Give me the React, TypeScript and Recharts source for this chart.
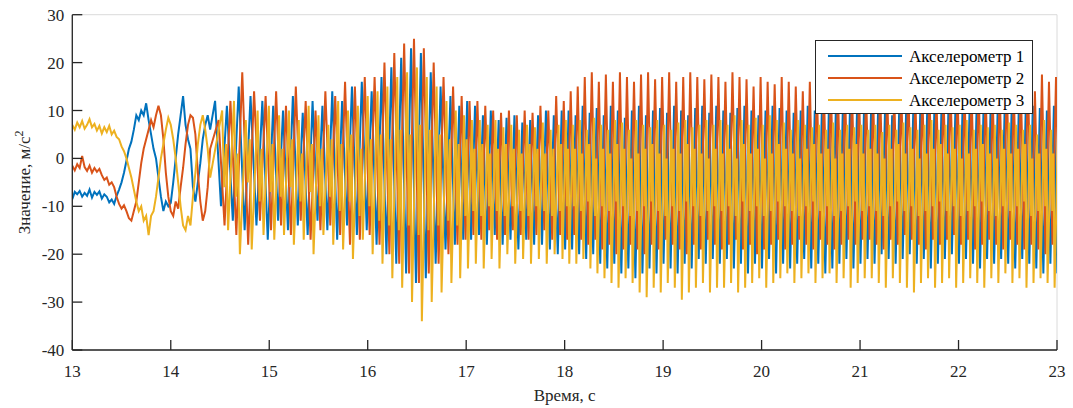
import React from 'react';
import { LineChart, Line, XAxis, YAxis, CartesianGrid, Legend } from 'recharts';

const X_TICKS = [13, 14, 15, 16, 17, 18, 19, 20, 21, 22, 23];
const Y_TICKS = [-40, -30, -20, -10, 0, 10, 20, 30];
const SERIES_NAMES = ['Акселерометр 1', 'Акселерометр 2', 'Акселерометр 3'];
const COLORS = ['#0072BD', '#D95319', '#EDB120'];
const X_LABEL = 'Время, с';
const Y_LABEL = 'Значение, м/с';

// slow part, sampled every 0.025 s starting at 13.0 s
const EARLY_START = 13.0;
const EARLY_STEP = 0.025;
const EARLY_ACC1 = [
  -8.5, -7, -7.5, -6.8, -8, -7.2, -7.8, -6.5, -8.2, -7, -7.6, -6.9, -8.4, -7.5, -8, -9.2, -8.6, -9.5, -7.8, -6.5,
  -5, -3, -0.5, 2, 3.5, 6, 9, 8, 10, 9, 11.5, 8, 5, 2, 0, -4, -8, -11, -9, -10,
  -9.3, -5, 0, 5, 9, 13, 7, 4, 2, -6, -9, -5, -1, 4, 7, 9, 6,
];
const EARLY_ACC2 = [
  -1.5, -2.5, -1.2, -2, 0.5, -1.8, -2.6, -1.5, -3, -2, -2.8, -2.2, -3.5, -4.5, -4, -5.5, -5, -6, -8, -9.5,
  -10.5, -9.8, -11, -12.5, -13, -11, -9, -5, -1, 2, 4, 6, 8, 6.5, 9, 11, 9, 4, -3, -8,
  -11, -12, -9, -10.5, -6, -2, 3, 7, 9, 8.5, 5, -3, -9, -13, -11, -6, 2,
];
const EARLY_ACC3 = [
  7, 6, 7.5, 6.5, 7.8, 6.2, 7, 8.2, 6.5, 7.2, 5.8, 6.8, 5.2, 6.5, 5.5, 6.8, 5, 5.8, 4.5, 4,
  2.5, 1.5, 0, -2, -4, -6.5, -9, -11, -10, -13, -12, -16, -12, -11, -8, -4, 0, 3, 6, 8.5,
  7, 4, 0, -5, -10, -14, -15, -12, -14, -8, -3, 3, 7, 9, 6, 2, -4,
];

// oscillating part: start time of each cycle
const CHIRP_CYCLE_T = [
  14.45, 14.57, 14.69, 14.81, 14.93,
  15.04, 15.14, 15.24, 15.34, 15.44, 15.54, 15.64, 15.74, 15.84, 15.94,
  16.04, 16.14, 16.24, 16.34, 16.44, 16.54, 16.64, 16.74, 16.84, 16.93,
  17.01, 17.09, 17.17, 17.25, 17.33, 17.41, 17.49, 17.57, 17.65, 17.73, 17.81, 17.89, 17.97,
];
const STEADY_START = 18.04;
const STEADY_PERIOD = 1 / 14;
const STEADY_CYCLES = 70;

// per-cycle peak (HI) and trough (LO) values
const ACC1_HI = [
  12, 11, 15, 13, 12,
  11, 10, 13, 9.5, 12, 11, 14, 12, 15, 16,
  14, 17, 19, 21, 23, 22, 18, 15, 13, 11,
  12, 11, 9, 10, 8, 8.5, 9, 7.5, 8, 9, 10, 9, 10,
  10, 9, 11, 9.5, 10.5, 9, 11, 10, 8.5, 10, 11, 9, 10, 10.5, 9.5, 11, 10, 9, 10.5, 11, 9.5,
  11, 10, 9.5, 10.5, 11, 10, 9, 10, 11, 10.5, 10, 9.5, 10, 11, 10, 9.5, 10, 10.5, 11, 10, 9.5,
  10, 9.5, 10, 10.5, 9, 10, 10.5, 9.5, 10, 11, 10, 9.5, 10, 10.5, 10, 9.5, 10, 11, 10.5, 10, 10.5, 11, 10, 10.5, 11, 10.5, 10, 11,
];
const ACC1_LO = [
  -10, -13, -15, -14, -17,
  -13, -15, -14, -16, -13, -15, -17, -14, -16, -15,
  -18, -20, -22, -24, -26, -25, -22, -19, -18, -17,
  -17, -16, -18, -16, -18, -17, -19, -17, -18, -18, -19, -20, -19,
  -19, -20, -21, -20, -22, -23, -22, -24, -23, -25, -24, -23, -24, -22, -23, -24, -22, -23, -21, -22, -21,
  -22, -21, -23, -22, -24, -22, -23, -21, -24, -22, -23, -22, -21, -23, -22, -24, -23, -22, -21, -23, -22,
  -21, -22, -20, -21, -22, -21, -20, -22, -21, -23, -22, -21, -20, -22, -21, -22, -23, -21, -22, -21, -22, -23, -21, -22, -23, -24, -22, -24,
];
const ACC2_HI = [
  8, 12, 18, 14, 13,
  14, 11, 15, 12, 10, 14, 13, 16, 15, 17,
  17, 20, 22, 24, 25, 23, 20, 17, 15, 13,
  12, 12, 11, 10, 9.5, 10, 9, 10, 9.5, 11, 10, 13, 12,
  14, 15, 17, 18, 16, 17.5, 16, 18, 17, 16, 17.5, 18, 16.5, 17, 18, 16, 17, 18, 17, 16.5, 17.5,
  17, 16, 18, 17, 16.5, 15, 17, 16, 15.5, 17, 16, 15, 14, 16, 15, 14.5, 15, 14, 15, 14, 13.5,
  14, 13, 15, 14, 13.5, 14, 15, 13, 14, 14.5, 13, 14, 15, 14, 13.5, 14, 15, 14, 13, 15, 16, 14, 15, 17, 14, 17.5, 16, 17,
];
const ACC2_LO = [
  -14, -16, -18, -13, -15,
  -14, -16, -13, -17, -15, -14, -16, -18, -17, -16,
  -18, -20, -22, -24, -26, -24, -22, -20, -18, -17,
  -16, -17, -15, -17, -16, -15, -16, -17, -16, -15, -17, -16, -17,
  -16, -17, -18, -17, -19, -18, -20, -19, -18, -19, -20, -18, -19, -17, -18, -19, -20, -18, -19, -17, -18,
  -19, -18, -17, -19, -18, -20, -19, -18, -17, -19, -18, -17, -18, -19, -17, -18, -19, -18, -17, -18, -17,
  -17, -18, -19, -17, -18, -16, -17, -18, -19, -17, -18, -17, -16, -18, -17, -19, -18, -17, -18, -19, -17, -18, -19, -18, -19, -20, -18, -19,
];
const ACC3_HI = [
  10, 12, 8, 10, 11,
  9, 10, 8, 11, 9, 7, 12, 10, 11, 13,
  14, 15, 17, 18, 19, 17, 15, 12, 10, 9,
  8, 8, 7, 8, 6.5, 7, 6, 7, 6.5, 7.5, 6, 7, 8,
  7, 8, 6, 8.5, 7, 6, 8, 7.5, 6, 8, 7, 6.5, 8, 7, 6, 7.5, 8, 6.5, 7, 8, 7,
  8, 7, 9, 8, 7, 8.5, 7, 9, 8, 7.5, 6, 8, 7, 6.5, 7, 6, 7.5, 6, 7, 6.5, 7,
  6, 7, 5.5, 7, 6, 7.5, 6.5, 6, 7, 8, 6, 7, 6.5, 7, 8, 6, 7, 6.5, 7, 6, 7.5, 7, 6, 7, 5, 8, 6, 7,
];
const ACC3_LO = [
  -15, -20, -19, -16, -17,
  -16, -18, -17, -20, -16, -18, -19, -21, -17, -20,
  -22, -25, -27, -30, -34, -30, -28, -26, -25, -23,
  -22, -23, -21, -23, -20, -22, -21, -22, -21, -22, -20, -21, -22,
  -22, -21, -23, -24, -25, -26, -27, -25, -26, -28, -29, -27, -28, -26, -27, -29.5, -28, -27, -26, -28, -27,
  -27, -26, -28, -27, -26, -25, -27, -26, -25, -24, -26, -25, -24, -26, -25, -24, -26, -25, -27, -26, -25,
  -25, -26, -27, -25, -26, -27, -28, -26, -25, -27, -26, -25, -27, -26, -25, -26, -27, -25, -26, -24, -26, -25, -27, -26, -25, -26, -27, -25,
];
// inner wiggle of accelerometer 3 inside each cycle (dense yellow body)
const ACC3_INNER_LO = [
  -6, -8, -5, -9, -7,
  -8, -6, -9, -7, -10, -8, -11, -9, -12, -10,
  -13, -14, -15, -14, -16, -15, -14, -13, -14, -12,
  -11, -12, -10, -11, -12, -10, -11, -12, -10, -11, -12, -11, -10,
  -10, -11, -9, -12, -10, -11, -9, -10, -12, -11, -10, -9, -11, -12, -10, -11, -9, -10, -12, -11, -10,
  -11, -10, -12, -9, -11, -10, -12, -11, -9, -10, -11, -12, -10, -9, -11, -10, -12, -11, -10, -9, -11,
  -10, -11, -12, -10, -9, -11, -10, -12, -11, -10, -9, -11, -10, -12, -11, -10, -9, -11, -12, -10, -11, -10, -9, -12, -11, -10, -11, -12,
];
const ACC3_INNER_HI = [
  3, 1, 4, 2, 3,
  2, 4, 1, 3, 2, 4, 3, 5, 2, 4,
  5, 4, 6, 5, 7, 6, 5, 4, 3, 4,
  2, 3, 1, 2, 3, 2, 1, 3, 2, 1, 2, 3, 2,
  2, 1, 3, 0, 2, 1, 3, 2, 0, 1, 2, 3, 1, 0, 2, 1, 3, 2, 1, 0, 2,
  1, 2, 0, 3, 1, 2, 0, 1, 3, 2, 1, 0, 2, 3, 1, 2, 0, 1, 2, 3, 1,
  2, 1, 0, 2, 3, 1, 2, 0, 1, 2, 3, 1, 2, 0, 1, 2, 3, 1, 0, 2, 1, 2, 3, 0, 1, 2, 1, 0,
];
const PHASES = [0, 0.3, 0.6];

const CYCLE_T: number[] = [...CHIRP_CYCLE_T];
for (let k = 0; k < STEADY_CYCLES; k++) CYCLE_T.push(STEADY_START + k * STEADY_PERIOD);

function buildSeries(
  early: number[],
  hi: number[],
  lo: number[],
  phase: number,
  innerLo?: number[],
  innerHi?: number[],
) {
  const pts: { t: number; v: number }[] = early.map((v, i) => ({ t: EARLY_START + i * EARLY_STEP, v }));
  const n = Math.min(CYCLE_T.length, hi.length, lo.length);
  for (let i = 0; i < n; i++) {
    const t0 = CYCLE_T[i];
    const p = (i + 1 < CYCLE_T.length ? CYCLE_T[i + 1] : t0 + STEADY_PERIOD) - t0;
    pts.push({ t: t0 + phase * p, v: hi[i] });
    if (innerLo && innerHi && i < innerLo.length && i < innerHi.length) {
      pts.push({ t: t0 + (phase + 0.17) * p, v: innerLo[i] });
      pts.push({ t: t0 + (phase + 0.33) * p, v: innerHi[i] });
    }
    pts.push({ t: t0 + (phase + 0.5) * p, v: lo[i] });
  }
  return pts;
}

const SERIES = [
  buildSeries(EARLY_ACC1, ACC1_HI, ACC1_LO, PHASES[0]),
  buildSeries(EARLY_ACC2, ACC2_HI, ACC2_LO, PHASES[1]),
  buildSeries(EARLY_ACC3, ACC3_HI, ACC3_LO, PHASES[2], ACC3_INNER_LO, ACC3_INNER_HI),
];

const FONT = 'Liberation Serif, Times New Roman, DejaVu Serif, serif';
const INK = '#262626';
const TICK_LEN = 10;
const TXT = { fontFamily: FONT, fontSize: 17 };

const BottomTick = (props: any) => {
  const { x, y, payload } = props;
  return (
    <g>
      <line x1={x} x2={x} y1={y} y2={y - TICK_LEN} stroke={INK} strokeWidth={1.3} />
      <text x={x} y={y + 27} textAnchor="middle" style={TXT} fill={INK}>
        {payload.value}
      </text>
    </g>
  );
};
const TopTick = (props: any) => {
  const { x, y } = props;
  return <line x1={x} x2={x} y1={y} y2={y + TICK_LEN} stroke={INK} strokeWidth={1.3} />;
};
const LeftTick = (props: any) => {
  const { x, y, payload } = props;
  return (
    <g>
      <line x1={x} x2={x + TICK_LEN} y1={y} y2={y} stroke={INK} strokeWidth={1.3} />
      <text x={x - 8} y={y + 6} textAnchor="end" style={TXT} fill={INK}>
        {payload.value}
      </text>
    </g>
  );
};
const RightTick = (props: any) => {
  const { x, y } = props;
  return <line x1={x} x2={x - TICK_LEN} y1={y} y2={y} stroke={INK} strokeWidth={1.3} />;
};

const XLabel = (props: any) => {
  const vb = props.viewBox || {};
  const cx = vb.x + vb.width / 2;
  return (
    <text x={cx} y={vb.y + 51} textAnchor="middle" style={TXT} fill={INK}>
      {X_LABEL}
    </text>
  );
};
const YLabel = (props: any) => {
  const vb = props.viewBox || {};
  const cy = vb.y + vb.height / 2;
  const bx = 30;
  return (
    <text
      x={bx}
      y={cy}
      transform={`rotate(-90, ${bx}, ${cy})`}
      textAnchor="middle"
      style={TXT}
      fill={INK}
    >
      {Y_LABEL}
      <tspan dy={-7} style={{ fontSize: 12 }}>2</tspan>
    </text>
  );
};

const LegendBox = () => (
  <div
    style={{
      width: 216,
      height: 72,
      border: `1.5px solid ${INK}`,
      background: '#fff',
      boxSizing: 'content-box',
    }}
  >
    <svg width={216} height={72} style={{ display: 'block' }}>
      {SERIES_NAMES.map((name, i) => {
        const yy = 15 + i * 22;
        return (
          <g key={name}>
            <line x1={12} x2={86} y1={yy} y2={yy} stroke={COLORS[i]} strokeWidth={2} />
            <text x={93} y={yy + 6} style={TXT} fill="#000">
              {name}
            </text>
          </g>
        );
      })}
    </svg>
  </div>
);

export default function App() {
  return (
    <div style={{ width: 1073, height: 408, fontFamily: FONT }}>
      <style>{'html,body{margin:0;padding:0;overflow:hidden;}'}</style>
      <LineChart width={1073} height={408} margin={{ top: 14.7, right: 16, left: 0, bottom: 0 }}>
        <CartesianGrid stroke="#dadada" strokeWidth={1} />
        <XAxis
          xAxisId="b"
          dataKey="t"
          type="number"
          domain={[13, 23]}
          ticks={X_TICKS}
          interval={0}
          allowDataOverflow
          height={58}
          tickSize={0}
          tickMargin={0}
          tickLine={false}
          axisLine={{ stroke: INK, strokeWidth: 1.3 }}
          tick={<BottomTick />}
          label={{ content: <XLabel /> }}
        />
        <XAxis
          xAxisId="t"
          orientation="top"
          dataKey="t"
          type="number"
          domain={[13, 23]}
          ticks={X_TICKS}
          interval={0}
          allowDataOverflow
          height={0}
          tickSize={0}
          tickMargin={0}
          tickLine={false}
          axisLine={{ stroke: INK, strokeWidth: 1.3 }}
          tick={<TopTick />}
        />
        <YAxis
          yAxisId="l"
          type="number"
          domain={[-40, 30]}
          ticks={Y_TICKS}
          interval={0}
          allowDataOverflow
          width={72.3}
          tickSize={0}
          tickMargin={0}
          tickLine={false}
          axisLine={{ stroke: INK, strokeWidth: 1.3 }}
          tick={<LeftTick />}
          label={{ content: <YLabel /> }}
        />
        <YAxis
          yAxisId="r"
          orientation="right"
          type="number"
          domain={[-40, 30]}
          ticks={Y_TICKS}
          interval={0}
          allowDataOverflow
          width={0}
          tickSize={0}
          tickMargin={0}
          tickLine={false}
          axisLine={{ stroke: INK, strokeWidth: 1.3 }}
          tick={<RightTick />}
        />
        {SERIES.map((data, i) => (
          <Line
            key={SERIES_NAMES[i]}
            xAxisId="b"
            yAxisId="l"
            data={data}
            dataKey="v"
            name={SERIES_NAMES[i]}
            type="linear"
            dot={false}
            activeDot={false}
            stroke={COLORS[i]}
            strokeWidth={2}
            isAnimationActive={false}
          />
        ))}
        <Legend
          layout="horizontal"
          verticalAlign="middle"
          align="center"
          content={<LegendBox />}
          wrapperStyle={{ position: 'absolute', left: 815, top: 39.5, width: 'auto', height: 'auto' }}
        />
      </LineChart>
    </div>
  );
}
